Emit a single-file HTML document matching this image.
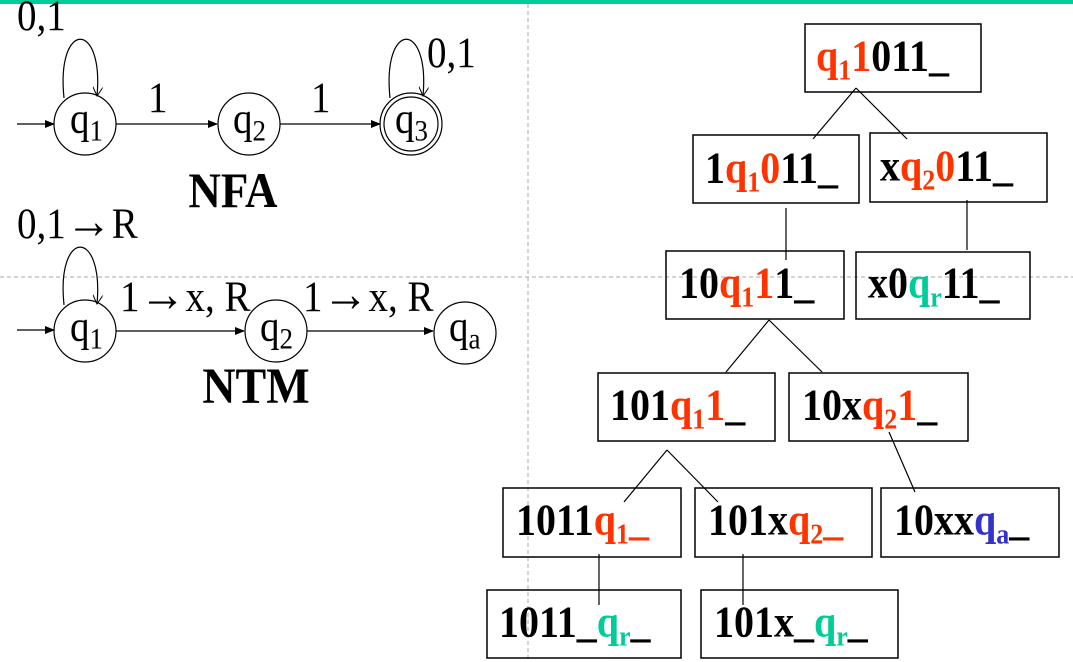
<!DOCTYPE html>
<html><head><meta charset="utf-8"><style>
html,body{margin:0;padding:0;background:#fff;}
svg{display:block;}
text{font-family:"Liberation Serif",serif;transform-box:fill-box;transform-origin:50% 78%;transform:scaleY(1.1);}
.t{font-size:39px;fill:#000;}
.b{font-size:40px;font-weight:bold;fill:#000;}
.r{fill:#ff3300;} .g{fill:#00cc99;} .u{fill:#3333cc;}
.box{fill:none;stroke:#000;stroke-width:1.5;}
.ln{stroke:#000;stroke-width:1.2;fill:none;}
</style></head><body>
<svg width="1073" height="662" viewBox="0 0 1073 662">
<defs><marker id="ah" markerWidth="10" markerHeight="8" refX="9" refY="4" orient="auto" markerUnits="userSpaceOnUse"><path d="M0,0 L10,4 L0,8 z" fill="#000"/></marker>
<marker id="ao" markerWidth="10" markerHeight="10" refX="9" refY="5" orient="auto" markerUnits="userSpaceOnUse"><path d="M0,0 L9,5 L0,10" fill="none" stroke="#000"/></marker></defs>
<rect x="0" y="0" width="1073" height="4" fill="#00cc99"/>
<line x1="528" y1="4" x2="528" y2="662" stroke="#aaa" stroke-dasharray="4,3"/>
<line x1="0" y1="277" x2="1073" y2="277" stroke="#aaa" stroke-dasharray="4,3"/>

<g>
<line class="ln" x1="17" y1="124" x2="54" y2="124" marker-end="url(#ah)"/>
<circle class="ln" cx="85" cy="124" r="31"/>
<circle class="ln" cx="249" cy="124" r="31"/>
<circle class="ln" cx="411" cy="124" r="31"/>
<circle class="ln" cx="411" cy="124" r="27"/>
<line class="ln" x1="116" y1="124" x2="217" y2="124" marker-end="url(#ah)"/>
<line class="ln" x1="280" y1="124" x2="380" y2="124" marker-end="url(#ah)"/>
<path class="ln" d="M64,98 C56,20 104,20 97,96" marker-end="url(#ao)"/>
<path class="ln" d="M390,98 C382,20 430,20 423,96" marker-end="url(#ao)"/>
<text class="t" x="70" y="133">q<tspan font-size="27" dy="7">1</tspan></text>
<text class="t" x="233" y="133">q<tspan font-size="27" dy="7">2</tspan></text>
<text class="t" x="395" y="133">q<tspan font-size="27" dy="7">3</tspan></text>
<text class="t" x="17" y="30">0,1</text>
<text class="t" x="427" y="67">0,1</text>
<text class="t" x="148" y="112">1</text>
<text class="t" x="311" y="112">1</text>
<text x="233" y="207" text-anchor="middle" font-size="45" font-weight="bold">NFA</text>
</g>

<g>
<line class="ln" x1="17" y1="330" x2="54" y2="330" marker-end="url(#ah)"/>
<circle class="ln" cx="85" cy="331" r="31"/>
<circle class="ln" cx="276" cy="331" r="31"/>
<circle class="ln" cx="465" cy="333" r="31"/>
<line class="ln" x1="116" y1="331" x2="244" y2="331" marker-end="url(#ah)"/>
<line class="ln" x1="307" y1="331" x2="433" y2="331" marker-end="url(#ah)"/>
<path class="ln" d="M64,305 C56,228 104,228 97,304" marker-end="url(#ao)"/>
<text class="t" x="70" y="341">q<tspan font-size="27" dy="7">1</tspan></text>
<text class="t" x="260" y="341">q<tspan font-size="27" dy="7">2</tspan></text>
<text class="t" x="449" y="341">q<tspan font-size="27" dy="7">a</tspan></text>
<text class="t" x="17" y="238">0,1<tspan font-size="46" font-weight="bold">→</tspan>R</text>
<text class="t" x="120" y="311">1<tspan font-size="46" font-weight="bold">→</tspan>x, R</text>
<text class="t" x="303" y="311">1<tspan font-size="46" font-weight="bold">→</tspan>x, R</text>
<text x="256" y="403" text-anchor="middle" font-size="46" font-weight="bold">NTM</text>
</g>

<g>
<line class="ln" x1="856" y1="88" x2="813" y2="139"/><line class="ln" x1="856" y1="88" x2="907" y2="139"/>
<line class="ln" x1="786" y1="208" x2="786" y2="260"/>
<line class="ln" x1="967" y1="200" x2="967" y2="250"/>
<line class="ln" x1="769" y1="320" x2="726" y2="372"/><line class="ln" x1="769" y1="320" x2="822" y2="372"/>
<line class="ln" x1="889" y1="432" x2="915" y2="492"/>
<line class="ln" x1="667" y1="450" x2="624" y2="502"/><line class="ln" x1="667" y1="450" x2="718" y2="502"/>
<line class="ln" x1="599" y1="554" x2="599" y2="605"/>
<line class="ln" x1="743" y1="554" x2="743" y2="605"/>

<rect class="box" x="805" y="24" width="176" height="68"/>
<text class="b" x="816" y="71"><tspan class="r">q</tspan><tspan class="r" font-size="26" dy="8">1</tspan><tspan class="r" dy="-8">1</tspan>011_</text>

<rect class="box" x="693" y="135" width="166" height="68"/>
<text class="b" x="705" y="183">1<tspan class="r">q</tspan><tspan class="r" font-size="26" dy="8">1</tspan><tspan class="r" dy="-8">0</tspan>11_</text>

<rect class="box" x="870" y="133" width="177" height="69"/>
<text class="b" x="880" y="181">x<tspan class="r">q</tspan><tspan class="r" font-size="26" dy="8">2</tspan><tspan class="r" dy="-8">0</tspan>11_</text>

<rect class="box" x="666" y="251" width="178" height="68"/>
<text class="b" x="679" y="298">10<tspan class="r">q</tspan><tspan class="r" font-size="26" dy="8">1</tspan><tspan class="r" dy="-8">1</tspan>1_</text>

<rect class="box" x="856" y="252" width="174" height="67"/>
<text class="b" x="868" y="298">x0<tspan class="g">q</tspan><tspan class="g" font-size="26" dy="8">r</tspan><tspan dy="-8">11_</tspan></text>

<rect class="box" x="598" y="373" width="177" height="68"/>
<text class="b" x="610" y="420">101<tspan class="r">q</tspan><tspan class="r" font-size="26" dy="8">1</tspan><tspan class="r" dy="-8">1</tspan>_</text>

<rect class="box" x="789" y="373" width="179" height="68"/>
<text class="b" x="802" y="420">10x<tspan class="r">q</tspan><tspan class="r" font-size="26" dy="8">2</tspan><tspan class="r" dy="-8">1</tspan>_</text>

<rect class="box" x="503" y="488" width="178" height="69"/>
<text class="b" x="516" y="535">1011<tspan class="r">q</tspan><tspan class="r" font-size="26" dy="8">1</tspan><tspan class="r" dy="-8">_</tspan></text>

<rect class="box" x="695" y="488" width="177" height="69"/>
<text class="b" x="708" y="535">101x<tspan class="r">q</tspan><tspan class="r" font-size="26" dy="8">2</tspan><tspan class="r" dy="-8">_</tspan></text>

<rect class="box" x="881" y="488" width="178" height="69"/>
<text class="b" x="894" y="535">10xx<tspan class="u">q</tspan><tspan class="u" font-size="26" dy="8">a</tspan><tspan dy="-8">_</tspan></text>

<rect class="box" x="487" y="590" width="194" height="68"/>
<text class="b" x="499" y="637">1011_<tspan class="g">q</tspan><tspan class="g" font-size="26" dy="8">r</tspan><tspan dy="-8">_</tspan></text>

<rect class="box" x="701" y="590" width="197" height="68"/>
<text class="b" x="714" y="637">101x_<tspan class="g">q</tspan><tspan class="g" font-size="26" dy="8">r</tspan><tspan dy="-8">_</tspan></text>
</g>
</svg>
</body></html>
